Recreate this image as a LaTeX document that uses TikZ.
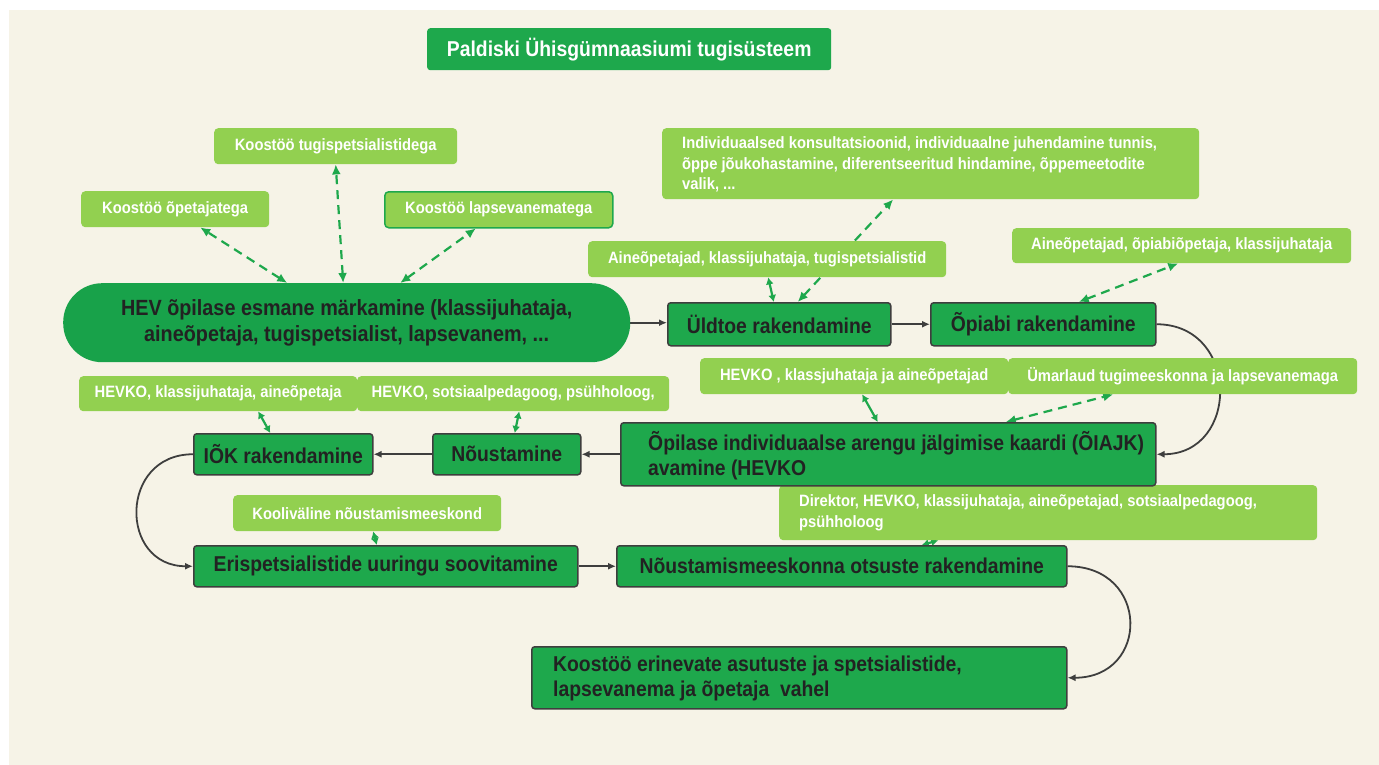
\documentclass[tikz,border=0pt]{standalone}
\usepackage{fontspec}
\setmainfont[FakeStretch=0.9]{Liberation Sans}
\usetikzlibrary{arrows.meta}
\definecolor{bgc}{RGB}{246,243,231}
\definecolor{lgreen}{RGB}{146,208,80}
\definecolor{dgreen}{RGB}{30,168,76}
\definecolor{pillgreen}{RGB}{24,162,74}
\definecolor{edgegray}{RGB}{62,62,62}
\definecolor{txtdark}{RGB}{34,34,34}
\newcommand\lightfnt{\fontsize{16.4}{20.5}\selectfont\bfseries}
\newcommand\darkfnt{\fontsize{21.5}{25}\selectfont\bfseries}
\newcommand\hevfnt{\fontsize{22}{26}\selectfont\bfseries}
\pgfdeclarelayer{back}
\pgfdeclarelayer{conn}
\pgfsetlayers{back,conn,main}
\begin{document}
\begin{tikzpicture}[x=1pt,y=-1pt,
  lbox/.style={fill=lgreen, rounded corners=4pt, text=white, font=\lightfnt,
    anchor=north west, inner sep=0pt, align=center},
  dbox/.style={fill=dgreen, draw=edgegray, line width=1.5pt, rounded corners=3pt,
    text=txtdark, font=\darkfnt, anchor=north west, inner sep=0pt, align=center},
  ltext/.style={text=white, font=\lightfnt, anchor=west, inner sep=0pt, align=left},
  dtext/.style={text=txtdark, font=\darkfnt, anchor=west, inner sep=0pt, align=left},
  titlebox/.style={fill=dgreen, rounded corners=3pt, text=white, font=\darkfnt,
    anchor=north west, inner sep=0pt},
  flow/.style={draw=edgegray, line width=1.8pt, -{Latex[length=8pt,width=7pt]}},
  dconn/.style={draw=dgreen, line width=2.2pt, dash pattern=on 9pt off 6pt,
    {Latex[length=10pt,width=9pt]}-{Latex[length=10pt,width=9pt]}},
  sconn/.style={draw=dgreen, line width=2.2pt,
    {Latex[length=7pt,width=8pt]}-{Latex[length=7pt,width=8pt]}}
]
\useasboundingbox (0,0) rectangle (1379,765);
\begin{pgfonlayer}{back}
  \fill[white] (0,0) rectangle (1379,765);
  \fill[bgc] (9,10) rectangle (1379,765);
\end{pgfonlayer}

% title
\node[titlebox, minimum width=404pt, minimum height=42pt] (title) at (427,28) {Paldiski Ühisgümnaasiumi tugisüsteem};

% light boxes
\node[lbox, minimum width=243pt, minimum height=36pt] (L1) at (214,128) {Koostöö tugispetsialistidega};
\node[lbox, minimum width=188pt, minimum height=36pt] (L2) at (81,191) {Koostöö õpetajatega};
\node[lbox, draw=dgreen, line width=1.5pt, minimum width=228pt, minimum height=36pt] (L3) at (384,191) {Koostöö lapsevanematega};
\node[lbox, minimum width=537pt, minimum height=71pt] (L4) at (662,128) {};
\node[ltext] (L4t) at ([xshift=20pt,yshift=-1pt]L4.west)
  {Individuaalsed konsultatsioonid, individuaalne juhendamine tunnis,\\ õppe jõukohastamine, diferentseeritud hindamine, õppemeetodite\\ valik, ...};
\node[lbox, minimum width=358pt, minimum height=36pt] (L5) at (588,241) {Aineõpetajad, klassijuhataja, tugispetsialistid};
\node[lbox, minimum width=339pt, minimum height=35pt] (L6) at (1012,228) {Aineõpetajad, õpiabiõpetaja, klassijuhataja};
\node[lbox, minimum width=278pt, minimum height=35pt] (L7) at (79,376) {HEVKO, klassijuhataja, aineõpetaja};
\node[lbox, minimum width=312pt, minimum height=35pt] (L8) at (357,376) {HEVKO, sotsiaalpedagoog, psühholoog,};
\node[lbox, minimum width=308pt, minimum height=36pt] (L9) at (700,358) {HEVKO , klassjuhataja ja aineõpetajad};
\node[lbox, minimum width=349pt, minimum height=36pt] (L10) at (1008,358) {Ümarlaud tugimeeskonna ja lapsevanemaga};
\node[lbox, minimum width=268pt, minimum height=36pt] (L11) at (233,495) {Kooliväline nõustamismeeskond};
\node[lbox, minimum width=538pt, minimum height=55pt] (L12) at (779,485) {};
\node[ltext] (L12t) at ([xshift=20pt]L12.west)
  {Direktor, HEVKO, klassijuhataja, aineõpetajad, sotsiaalpedagoog,\\ psühholoog};

% dark boxes
\node[fill=pillgreen, rounded corners=39pt, text=txtdark, font=\hevfnt, anchor=north west, inner sep=0pt, align=center,
  minimum width=567pt, minimum height=79pt] (hev) at (63,283)
  {HEV õpilase esmane märkamine (klassijuhataja,\\ aineõpetaja, tugispetsialist, lapsevanem, ...};
\node[dbox, minimum width=223pt, minimum height=43pt] (D1) at (667,302) {Üldtoe rakendamine};
\node[dbox, minimum width=225pt, minimum height=43pt] (D2) at (930,302) {Õpiabi rakendamine};
\node[dbox, minimum width=535pt, minimum height=63pt] (D3) at (620,422) {};
\node[dtext] (D3t) at ([xshift=28pt,yshift=-1pt]D3.west)
  {Õpilase individuaalse arengu jälgimise kaardi (ÕIAJK)\\ avamine (HEVKO};
\node[dbox, minimum width=148pt, minimum height=41pt] (D4) at (432,433) {Nõustamine};
\node[dbox, minimum width=179pt, minimum height=41pt] (D5) at (193,433) {IÕK rakendamine};
\node[dbox, minimum width=384pt, minimum height=41pt] (D6) at (193,545) {Erispetsialistide uuringu soovitamine};
\node[dbox, minimum width=450pt, minimum height=41pt] (D7) at (616,545) {Nõustamismeeskonna otsuste rakendamine};
\node[dbox, minimum width=535pt, minimum height=62pt] (D8) at (531,646) {};
\node[dtext] (D8t) at ([xshift=22pt,yshift=-1pt]D8.west)
  {Koostöö erinevate asutuste ja spetsialistide,\\ lapsevanema ja õpetaja\ \ vahel};

% connectors
\begin{pgfonlayer}{conn}
  \draw[flow] (hev.east) -- (hev.east -| D1.west);
  \draw[flow] (D1.east) -- (D2.west);
  \draw[flow] (D2.east) to[out=0,in=0,looseness=1.65] (D3.east);
  \draw[flow] (D3.west |- D4.east) -- (D4.east);
  \draw[flow] (D4.west) -- (D5.east);
  \draw[flow] (D5.west) to[out=180,in=180,looseness=1.7] (D6.west);
  \draw[flow] (D6.east) -- (D7.west);
  \draw[flow] (D7.east) to[out=0,in=0,looseness=1.9] (D8.east);

  \draw[dconn] ([xshift=-59.5pt]hev.north) -- ([xshift=25pt]L2.south);
  \draw[dconn] ([xshift=-3.5pt]hev.north) -- (L1.south);
  \draw[dconn] ([xshift=53.5pt]hev.north) -- ([xshift=-23pt]L3.south);
  \draw[sconn] ([xshift=-5.5pt]D1.north) -- ([xshift=1pt]L5.south);
  \draw[dconn] ([xshift=18.5pt]D1.north) -- ([xshift=-37.5pt]L4.south);
  \draw[dconn] ([xshift=35.5pt]D2.north) -- ([xshift=-3.5pt]L6.south);
  \draw[sconn] ([xshift=-10.5pt]D3.north) -- ([xshift=8pt]L9.south);
  \draw[dconn] ([xshift=117.5pt]D3.north) -- ([xshift=-69.5pt]L10.south);
  \draw[sconn] ([xshift=8pt]D4.north) -- ([xshift=6pt]L8.south);
  \draw[sconn] ([xshift=-13pt]D5.north) -- ([xshift=40pt]L7.south);
  \draw[sconn] ([xshift=-9pt]D6.north) -- ([xshift=6pt]L11.south);
  \draw[sconn] ([xshift=80pt]D7.north) -- ([xshift=-110pt]L12.south);
\end{pgfonlayer}
\end{tikzpicture}
\end{document}
